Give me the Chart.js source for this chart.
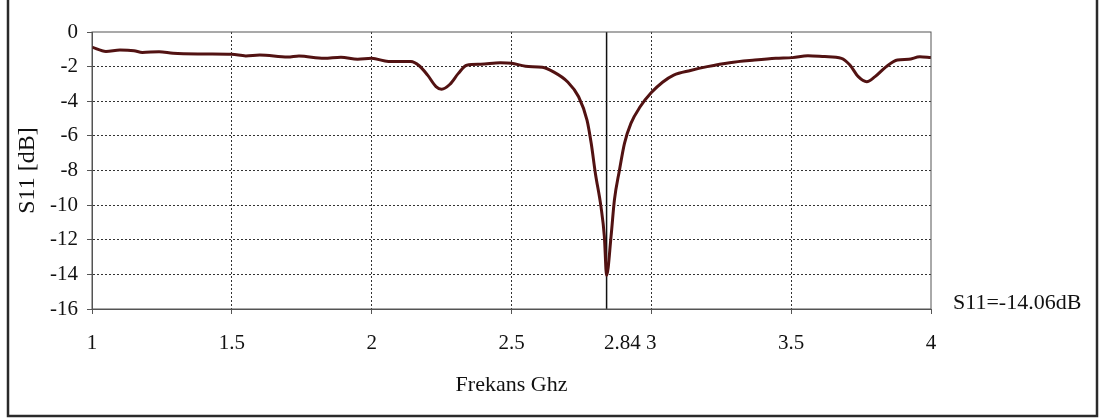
<!DOCTYPE html>
<html>
<head>
<meta charset="utf-8">
<script src="https://cdn.jsdelivr.net/npm/chart.js@4.4.0/dist/chart.umd.min.js"></script>
<style>
    html, body { margin: 0; padding: 0; background: #fff; }
    #wrap { width: 1100px; height: 419px; }
</style>
</head>
<body>
<div id="wrap"><canvas id="s11Chart" width="1100" height="419"></canvas></div>
<script>
// Data
const FREQ = [
    1.00, 1.05, 1.10, 1.15, 1.18, 1.24, 1.29, 1.40, 1.50, 1.55,
    1.60, 1.70, 1.74, 1.83, 1.89, 1.95, 2.00, 2.06, 2.14, 2.17,
    2.20, 2.23, 2.25, 2.28, 2.31, 2.34, 2.39, 2.46, 2.50, 2.55,
    2.61, 2.65, 2.70, 2.74, 2.77, 2.785, 2.80, 2.82, 2.832, 2.84,
    2.856, 2.868, 2.886, 2.904, 2.927, 2.96, 3.00, 3.04, 3.08, 3.14,
    3.20, 3.28, 3.37, 3.445, 3.505, 3.56, 3.62, 3.68, 3.71, 3.74,
    3.77, 3.80, 3.84, 3.88, 3.92, 3.96, 4.00
];
const S11 = [
    -0.88, -1.12, -1.04, -1.08, -1.18, -1.14, -1.23, -1.27, -1.29, -1.38,
    -1.33, -1.45, -1.39, -1.52, -1.46, -1.57, -1.52, -1.70, -1.71, -1.95,
    -2.49, -3.15, -3.31, -3.02, -2.39, -1.92, -1.86, -1.77, -1.80, -1.98,
    -2.04, -2.30, -2.87, -3.74, -5.09, -6.43, -8.17, -10.1, -11.8, -14.06,
    -11.8, -9.7, -7.98, -6.43, -5.28, -4.32, -3.50, -2.90, -2.49, -2.22,
    -2.00, -1.77, -1.62, -1.52, -1.48, -1.37, -1.42, -1.52, -1.91, -2.58,
    -2.87, -2.58, -2.00, -1.62, -1.58, -1.43, -1.48
];
const X_TICKS = [1, 1.5, 2, 2.5, 2.84, 3, 3.5, 4];
const MARKER_FREQ = 2.84;
const Y_MIN = -16;
const Y_MAX = 0;
const Y_STEP = 2;
const MARKER_TEXT = 'S11=-14.06dB';
const X_TITLE = 'Frekans Ghz';
const Y_TITLE = 'S11 [dB]';

const FONT = '"Liberation Serif", "Times New Roman", serif';
const AXIS_COLOR = '#555';
const GRID_COLOR = '#333';
const CLEAR = 'rgba(0,0,0,0)';

// frame around the plot area, outer box and the marker text
const framePlugin = {
    id: 'frame',
    afterDraw(chart) {
        const { ctx, chartArea } = chart;
        ctx.save();
        ctx.strokeStyle = AXIS_COLOR;
        ctx.lineWidth = 1;
        ctx.strokeRect(chartArea.left, chartArea.top, chartArea.right - chartArea.left, chartArea.bottom - chartArea.top);

        ctx.strokeStyle = '#2a2a2a';
        ctx.lineWidth = 2.5;
        ctx.strokeRect(8, -5, 1089, 421);

        ctx.fillStyle = '#111';
        ctx.font = `22px ${FONT}`;
        ctx.textAlign = 'left';
        ctx.textBaseline = 'middle';
        ctx.fillText(MARKER_TEXT, 953, 303);
        ctx.restore();
    }
};

function renderChart() {
    const ctx = document.getElementById('s11Chart').getContext('2d');

    const curve = FREQ.map((f, i) => ({ x: f, y: S11[i] }));
    const marker = [{ x: MARKER_FREQ, y: Y_MAX }, { x: MARKER_FREQ, y: Y_MIN }];

    new Chart(ctx, {
        type: 'line',
        data: {
            datasets: [{
                data: marker,
                borderColor: '#111',
                borderWidth: 1.5,
                pointRadius: 0,
                order: 2
            }, {
                data: curve,
                borderColor: '#521212',
                borderWidth: 3,
                pointRadius: 0,
                cubicInterpolationMode: 'monotone',
                order: 1
            }]
        },
        options: {
            responsive: false,
            animation: false,
            layout: { padding: { top: 32, right: 169, left: 0, bottom: 0 } },
            plugins: {
                legend: { display: false },
                tooltip: { enabled: false }
            },
            scales: {
                x: {
                    type: 'linear',
                    min: 1,
                    max: 4,
                    afterBuildTicks: (scale) => {
                        scale.ticks = X_TICKS.map(v => ({ value: v }));
                    },
                    afterFit: (scale) => { scale.height = 110; },
                    ticks: {
                        autoSkip: false,
                        maxRotation: 0,
                        padding: 17,
                        color: '#111',
                        font: { family: FONT, size: 21 },
                        // the 2.84 label sits just left of "3" in the original
                        callback: (v) => v === MARKER_FREQ ? '      ' + v : String(v)
                    },
                    grid: {
                        color: (c) => (c.tick && (c.tick.value === 1 || c.tick.value === 4 || c.tick.value === MARKER_FREQ)) ? CLEAR : GRID_COLOR,
                        tickColor: (c) => (c.tick && c.tick.value === MARKER_FREQ) ? CLEAR : AXIS_COLOR,
                        tickLength: 5,
                        lineWidth: 1
                    },
                    border: { color: AXIS_COLOR, width: 1, dash: [2, 2] },
                    title: {
                        display: true,
                        text: X_TITLE,
                        color: '#111',
                        font: { family: FONT, size: 22 },
                        padding: { top: 0, bottom: 21 }
                    }
                },
                y: {
                    min: Y_MIN,
                    max: Y_MAX,
                    afterFit: (scale) => { scale.width = 92; },
                    ticks: {
                        stepSize: Y_STEP,
                        padding: 9,
                        color: '#111',
                        font: { family: FONT, size: 21 }
                    },
                    grid: {
                        color: (c) => (c.tick && (c.tick.value === Y_MIN || c.tick.value === Y_MAX)) ? CLEAR : GRID_COLOR,
                        tickColor: AXIS_COLOR,
                        tickLength: 5,
                        lineWidth: 1
                    },
                    border: { color: AXIS_COLOR, width: 1, dash: [2, 2] },
                    title: {
                        display: true,
                        text: Y_TITLE,
                        color: '#111',
                        font: { family: FONT, size: 24 },
                        padding: { top: 13, bottom: 0 }
                    }
                }
            }
        },
        plugins: [framePlugin]
    });
}

renderChart();
</script>
</body>
</html>
